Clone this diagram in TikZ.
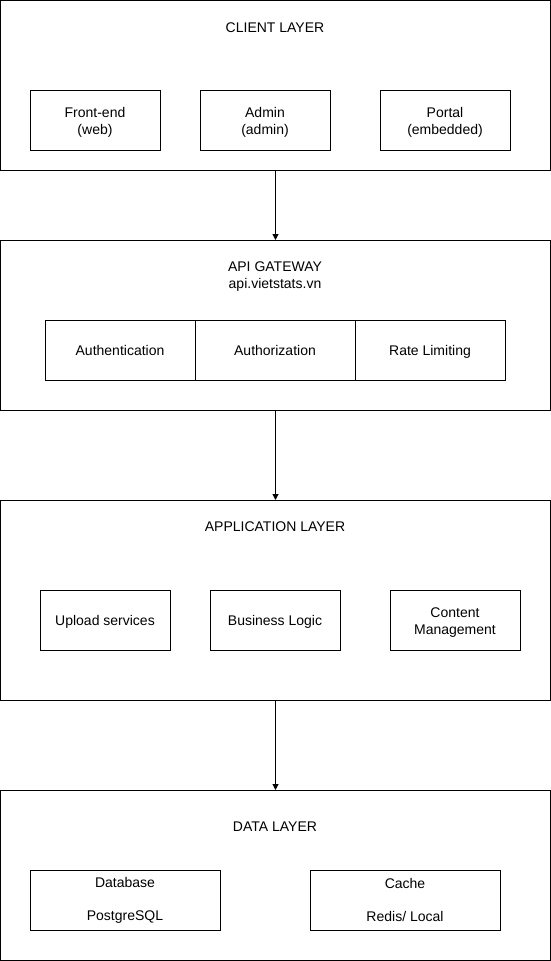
\documentclass[tikz,border=0pt]{standalone}
\usepackage{fontspec}
\setmainfont{Liberation Sans}
\usetikzlibrary{arrows.meta}

\begin{document}
\begin{tikzpicture}[x=1pt, y=-1pt, line width=1pt,
    every node/.style={font=\fontsize{14}{17}\selectfont, align=center, inner sep=0pt},
    oneline/.style={text height=10pt, text depth=0pt},
    layerbox/.style={draw, minimum width=550pt},
    partbox/.style={draw, minimum width=130pt, minimum height=60pt},
    flow/.style={-{Triangle[length=6pt,width=6pt]}}]
    \useasboundingbox (0,0) rectangle (551,961);

    % client layer
    \node[layerbox, minimum height=170pt] (client) at (275.5,85.5) {};
    \node[oneline] (clienttitle) at (275,27) {CLIENT LAYER};
    \node[partbox] (frontend) at (95,120) {\rule{0pt}{15pt}Front-end\\(web)};
    \node[partbox] (admin) at (265,120) {\rule{0pt}{15pt}Admin\\(admin)};
    \node[partbox] (portal) at (445,120) {\rule{0pt}{15pt}Portal\\(embedded)};

    % api gateway
    \node[layerbox, minimum height=170pt] (gateway) at (275.5,325.5) {};
    \node (gatewaytitle) at (275,276.5) {API GATEWAY\\api.vietstats.vn};
    \node[partbox, oneline, minimum width=150pt] (authn) at (120,350) {Authentication};
    \node[partbox, oneline, minimum width=160pt] (authz) at (275,350) {Authorization};
    \node[partbox, oneline, minimum width=150pt] (ratelimit) at (430,350) {Rate Limiting};

    % application layer
    \node[layerbox, minimum height=200pt] (app) at (275.5,600.5) {};
    \node[oneline] (apptitle) at (275,526) {APPLICATION LAYER};
    \node[partbox, oneline] (upload) at (105,620) {Upload services};
    \node[partbox, oneline] (logic) at (275,620) {Business Logic};
    \node[partbox] (content) at (455,620) {\rule{0pt}{15pt}Content\\Management};

    % data layer
    \node[layerbox, minimum height=170pt] (data) at (275.5,875.5) {};
    \node[oneline] (datatitle) at (275,826) {DATA LAYER};
    \node[partbox, minimum width=190pt] (database) at (125,900) {Database\\[16pt]PostgreSQL};
    \node[partbox, minimum width=190pt] (cache) at (405,900) {Cache\\[16pt]Redis/ Local};

    % connectors
    \draw[flow] (client.south) -- (gateway.north);
    \draw[flow] (gateway.south) -- (app.north);
    \draw[flow] (app.south) -- (data.north);
\end{tikzpicture}
\end{document}
